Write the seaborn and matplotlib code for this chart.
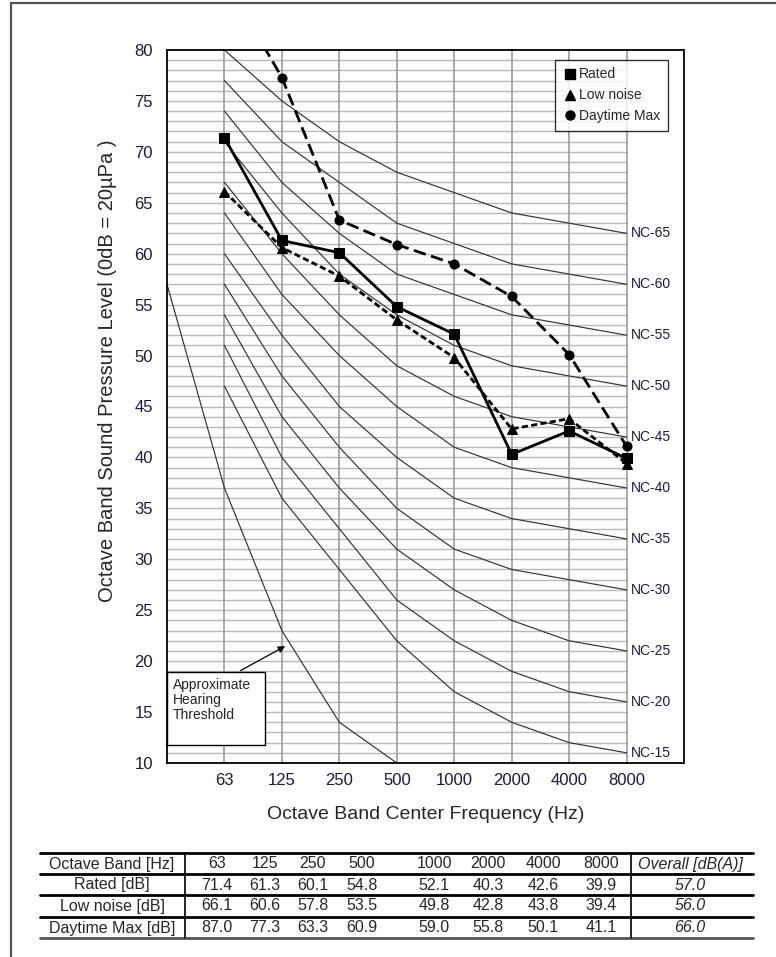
import matplotlib
matplotlib.use("Agg")
import matplotlib.pyplot as plt
import seaborn as sns
import pandas as pd
import numpy as np
from matplotlib.lines import Line2D
from matplotlib.patches import Rectangle

# ---------------- data ----------------
bands = ["63", "125", "250", "500", "1000", "2000", "4000", "8000"]
rated = [71.4, 61.3, 60.1, 54.8, 52.1, 40.3, 42.6, 39.9]
low_noise = [66.1, 60.6, 57.8, 53.5, 49.8, 42.8, 43.8, 39.4]
daytime_max = [87.0, 77.3, 63.3, 60.9, 59.0, 55.8, 50.1, 41.1]
overall = ["57.0", "56.0", "66.0"]
series_names = ["Rated", "Low noise", "Daytime Max"]
row_labels = ["Rated [dB]", "Low noise [dB]", "Daytime Max [dB]"]

nc_labels = ["NC-65", "NC-60", "NC-55", "NC-50", "NC-45", "NC-40",
             "NC-35", "NC-30", "NC-25", "NC-20", "NC-15"]
nc_values = [
    [80, 75, 71, 68, 66, 64, 63, 62],
    [77, 71, 67, 63, 61, 59, 58, 57],
    [74, 67, 62, 58, 56, 54, 53, 52],
    [71, 64, 58, 54, 51, 49, 48, 47],
    [67, 60, 54, 49, 46, 44, 43, 42],
    [64, 56, 50, 45, 41, 39, 38, 37],
    [60, 52, 45, 40, 36, 34, 33, 32],
    [57, 48, 41, 35, 31, 29, 28, 27],
    [54, 44, 37, 31, 27, 24, 22, 21],
    [51, 40, 33, 26, 22, 19, 17, 16],
    [47, 36, 29, 22, 17, 14, 12, 11],
]
threshold_pos = [0, 1, 2, 3, 4]          # 31.5, 63, 125, 250, 500 Hz
threshold_vals = [57, 37, 23, 14, 10]

# ---------------- style ----------------
sns.set_theme(style="white")
plt.rcParams["font.family"] = ["Liberation Sans", "DejaVu Sans"]

W, H = 776, 957
fig = plt.figure(figsize=(W / 100, H / 100), dpi=100)

# page overlay axes (pixel coords)
pg = fig.add_axes([0, 0, 1, 1])
pg.set_xlim(0, W)
pg.set_ylim(H, 0)
pg.axis("off")
pg.patch.set_alpha(0)
pg.plot([11, 11], [3, H], color="#555555", lw=1.6)
pg.plot([11, W], [3, 3], color="#555555", lw=1.6)

# ---------------- main chart ----------------
ax = fig.add_axes([167 / W, 1 - 763 / H, (684 - 167) / W, (763 - 50) / H])
pos = np.arange(1, len(bands) + 1)

# grid: horizontal every dB (up to the 8000 line), vertical at each band
ax.hlines(np.arange(11, 80), 0, pos[-1], color="#b8b8b8", lw=1.0, zorder=1)
ax.vlines(pos, 10, 80, color="#9c9c9c", lw=1.2, zorder=1)

# NC curves
nc_df = pd.DataFrame({
    "pos": np.tile(pos, len(nc_labels)),
    "val": np.concatenate(nc_values),
    "curve": np.repeat(nc_labels, len(bands)),
})
sns.lineplot(data=nc_df, x="pos", y="val", units="curve", estimator=None,
             color="#333333", lw=0.85, ax=ax, zorder=2, legend=False)
for lab, vals in zip(nc_labels, nc_values):
    ax.text(pos[-1] + 0.08, vals[-1], lab, fontsize=10, va="center", ha="left",
            color="#1a1a40", zorder=3)

# hearing threshold
sns.lineplot(x=threshold_pos, y=threshold_vals, color="#333333", lw=0.85,
             ax=ax, zorder=2)

# data series
df = pd.DataFrame({
    "pos": np.tile(pos, 3),
    "val": np.concatenate([rated, low_noise, daytime_max]),
    "series": np.repeat(series_names, len(bands)),
})
sns.lineplot(data=df, x="pos", y="val", style="series", style_order=series_names,
             markers={"Rated": "s", "Low noise": "^", "Daytime Max": "o"},
             dashes={"Rated": "", "Low noise": (2.2, 1.2), "Daytime Max": (4.5, 2.0)},
             color="black", lw=2.0, markersize=6.5, markeredgecolor="black",
             ax=ax, zorder=4, legend=False)

# annotation box
ax.add_patch(Rectangle((0, 11.8), 1.71, 7.1, facecolor="white", edgecolor="black",
                       lw=1.0, zorder=5))
ax.text(0.1, 18.35, "Approximate\nHearing\nThreshold", fontsize=10, va="top",
        ha="left", zorder=6, linespacing=1.08)
ax.annotate("", xy=(2.1, 21.6), xytext=(1.24, 18.95),
            arrowprops=dict(arrowstyle="-|>", color="black", lw=0.9,
                            mutation_scale=10), zorder=6)

ax.set_xlim(0, 9)
ax.set_ylim(10, 80)
ax.set_xticks(pos)
ax.set_xticklabels(bands)
ax.set_yticks(np.arange(10, 81, 5))
ax.tick_params(axis="both", length=0, labelsize=12, colors="#1a1a40")
ax.tick_params(axis="y", pad=10)
ax.tick_params(axis="x", pad=7)
for s in ax.spines.values():
    s.set_color("black")
    s.set_linewidth(1.3)
ax.set_xlabel("Octave Band Center Frequency (Hz)", fontsize=14, labelpad=13)
ax.set_ylabel("Octave Band Sound Pressure Level (0dB = 20µPa )", fontsize=14.5,
              labelpad=12)
ax.yaxis.set_label_coords(-0.097, 0.55)

handles = [Line2D([], [], ls="none", marker=m, color="black", markersize=6.5)
           for m in ["s", "^", "o"]]
leg = ax.legend(handles, series_names, loc="upper right",
                bbox_to_anchor=(0.982, 0.996), fontsize=10, frameon=True,
                fancybox=False, handletextpad=0.15, handlelength=1.0,
                labelspacing=0.5, borderpad=0.55)
leg.get_frame().set_edgecolor("black")
leg.get_frame().set_linewidth(1.0)
leg.set_zorder(7)

# ---------------- table ----------------
x0, x1 = 40, 753
div1, div2 = 185, 631
col_x = [217, 265, 313, 362, 434, 488, 543, 601]
first_x, last_x = 112, 690
row_lines = [853, 874, 895, 917, 938]
row_y = [864, 885, 906, 928]
tfs = 11.5
for i, yl in enumerate(row_lines):
    pg.plot([x0, x1], [yl, yl], color="black" if i < 4 else "#555555", lw=2.0)
pg.plot([div1, div1], [row_lines[0], row_lines[-1]], color="black", lw=1.2)
pg.plot([div2, div2], [row_lines[0], row_lines[-1]], color="black", lw=1.2)

pg.text(first_x, row_y[0], "Octave Band [Hz]", ha="center", va="center", fontsize=tfs)
for cx, b in zip(col_x, bands):
    pg.text(cx, row_y[0], b, ha="center", va="center", fontsize=tfs)
pg.text(last_x, row_y[0], "Overall [dB(A)]", ha="center", va="center",
        fontsize=tfs, style="italic")
for r, (lab, vals, ov) in enumerate(zip(row_labels, [rated, low_noise, daytime_max], overall)):
    yy = row_y[r + 1]
    pg.text(first_x, yy, lab, ha="center", va="center", fontsize=tfs)
    for cx, v in zip(col_x, vals):
        pg.text(cx, yy, f"{v:.1f}", ha="center", va="center", fontsize=tfs)
    pg.text(last_x, yy, ov, ha="center", va="center", fontsize=tfs, style="italic")

fig.savefig("out.png", dpi=100)
